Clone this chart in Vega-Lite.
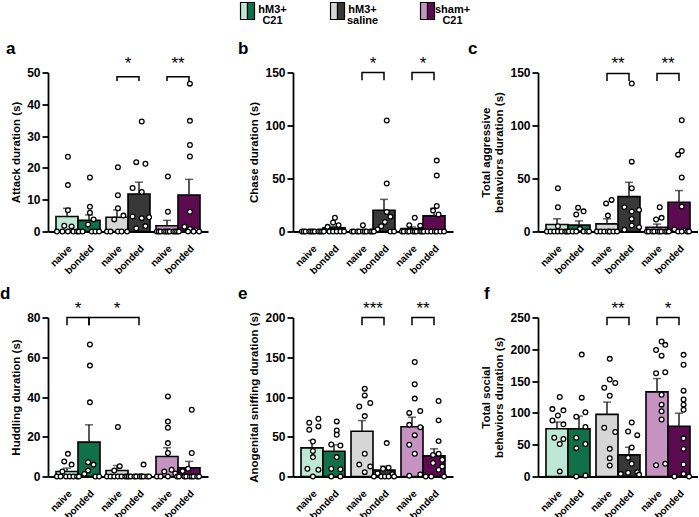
{
"$schema":"https://vega.github.io/schema/vega-lite/v6.json",
"padding":{"left":0,"top":1.5,"right":0,"bottom":0},
"datasets":{
"bars":[
{"p":"a","g":"C21","c":"naive","k":"C21 naive","m":4.7,"u":7.3},
{"p":"a","g":"C21","c":"bonded","k":"C21 bonded","m":3.5,"u":5.2},
{"p":"a","g":"sal","c":"naive","k":"sal naive","m":4.5,"u":6.8},
{"p":"a","g":"sal","c":"bonded","k":"sal bonded","m":11.8,"u":15.5},
{"p":"a","g":"sham","c":"naive","k":"sham naive","m":1.8,"u":3.5},
{"p":"a","g":"sham","c":"bonded","k":"sham bonded","m":11.5,"u":16.4},
{"p":"b","g":"C21","c":"naive","k":"C21 naive","m":0.2,"u":0.5},
{"p":"b","g":"C21","c":"bonded","k":"C21 bonded","m":3.4,"u":4.9},
{"p":"b","g":"sal","c":"naive","k":"sal naive","m":0.6,"u":1.2},
{"p":"b","g":"sal","c":"bonded","k":"sal bonded","m":20,"u":30.3},
{"p":"b","g":"sham","c":"naive","k":"sham naive","m":2.8,"u":4.3},
{"p":"b","g":"sham","c":"bonded","k":"sham bonded","m":14.7,"u":21.9},
{"p":"c","g":"C21","c":"naive","k":"C21 naive","m":6.6,"u":12},
{"p":"c","g":"C21","c":"bonded","k":"C21 bonded","m":6,"u":10},
{"p":"c","g":"sal","c":"naive","k":"sal naive","m":7.2,"u":12},
{"p":"c","g":"sal","c":"bonded","k":"sal bonded","m":32.9,"u":46.4},
{"p":"c","g":"sham","c":"naive","k":"sham naive","m":4,"u":7},
{"p":"c","g":"sham","c":"bonded","k":"sham bonded","m":27.6,"u":38.6},
{"p":"d","g":"C21","c":"naive","k":"C21 naive","m":2.5,"u":4.2},
{"p":"d","g":"C21","c":"bonded","k":"C21 bonded","m":17.3,"u":26},
{"p":"d","g":"sal","c":"naive","k":"sal naive","m":3,"u":5.5},
{"p":"d","g":"sal","c":"bonded","k":"sal bonded","m":0.6,"u":1.2},
{"p":"d","g":"sham","c":"naive","k":"sham naive","m":10.1,"u":14.5},
{"p":"d","g":"sham","c":"bonded","k":"sham bonded","m":4.4,"u":7.6},
{"p":"e","g":"C21","c":"naive","k":"C21 naive","m":36,"u":45.3},
{"p":"e","g":"C21","c":"bonded","k":"C21 bonded","m":31.8,"u":39.8},
{"p":"e","g":"sal","c":"naive","k":"sal naive","m":57,"u":70.4},
{"p":"e","g":"sal","c":"bonded","k":"sal bonded","m":8,"u":13},
{"p":"e","g":"sham","c":"naive","k":"sham naive","m":62.5,"u":74.6},
{"p":"e","g":"sham","c":"bonded","k":"sham bonded","m":26,"u":34.8},
{"p":"f","g":"C21","c":"naive","k":"C21 naive","m":75,"u":85.6},
{"p":"f","g":"C21","c":"bonded","k":"C21 bonded","m":75,"u":95},
{"p":"f","g":"sal","c":"naive","k":"sal naive","m":97.7,"u":117},
{"p":"f","g":"sal","c":"bonded","k":"sal bonded","m":34,"u":46},
{"p":"f","g":"sham","c":"naive","k":"sham naive","m":133,"u":154},
{"p":"f","g":"sham","c":"bonded","k":"sham bonded","m":79,"u":99.5}
],
"pts":[
{"p":"a","g":"C21","c":"naive","s":6,"v":23.5},{"p":"a","g":"C21","c":"naive","s":6,"v":14.6},{"p":"a","g":"C21","c":"naive","s":6,"v":6.7},{"p":"a","g":"C21","c":"naive","s":4,"v":1.8},{"p":"a","g":"C21","c":"naive","s":8,"v":1.6},{"p":"a","g":"C21","c":"naive","s":0,"v":0},{"p":"a","g":"C21","c":"naive","s":3,"v":0},{"p":"a","g":"C21","c":"naive","s":6,"v":0},{"p":"a","g":"C21","c":"naive","s":9,"v":0},{"p":"a","g":"C21","c":"naive","s":11,"v":0},
{"p":"a","g":"C21","c":"bonded","s":18,"v":17},{"p":"a","g":"C21","c":"bonded","s":18,"v":7.8},{"p":"a","g":"C21","c":"bonded","s":18,"v":5.9},{"p":"a","g":"C21","c":"bonded","s":20,"v":3.8},{"p":"a","g":"C21","c":"bonded","s":17,"v":2.2},{"p":"a","g":"C21","c":"bonded","s":12,"v":0},{"p":"a","g":"C21","c":"bonded","s":14,"v":0},{"p":"a","g":"C21","c":"bonded","s":19,"v":0},{"p":"a","g":"C21","c":"bonded","s":21,"v":0},{"p":"a","g":"C21","c":"bonded","s":23,"v":0},
{"p":"a","g":"sal","c":"naive","s":6,"v":20.2},{"p":"a","g":"sal","c":"naive","s":6,"v":11.4},{"p":"a","g":"sal","c":"naive","s":6,"v":7.3},{"p":"a","g":"sal","c":"naive","s":9,"v":5},{"p":"a","g":"sal","c":"naive","s":4,"v":3.8},{"p":"a","g":"sal","c":"naive","s":0,"v":0},{"p":"a","g":"sal","c":"naive","s":2,"v":0},{"p":"a","g":"sal","c":"naive","s":6,"v":0},{"p":"a","g":"sal","c":"naive","s":8,"v":0},{"p":"a","g":"sal","c":"naive","s":11,"v":0},
{"p":"a","g":"sal","c":"bonded","s":19,"v":34.6},{"p":"a","g":"sal","c":"bonded","s":16,"v":21.8},{"p":"a","g":"sal","c":"bonded","s":21,"v":21.3},{"p":"a","g":"sal","c":"bonded","s":14,"v":13.7},{"p":"a","g":"sal","c":"bonded","s":19,"v":12.4},{"p":"a","g":"sal","c":"bonded","s":14,"v":4.7},{"p":"a","g":"sal","c":"bonded","s":23,"v":4.5},{"p":"a","g":"sal","c":"bonded","s":19,"v":4.2},{"p":"a","g":"sal","c":"bonded","s":21,"v":1.7},{"p":"a","g":"sal","c":"bonded","s":16,"v":1},
{"p":"a","g":"sham","c":"naive","s":6,"v":17.3},{"p":"a","g":"sham","c":"naive","s":6,"v":6.2},{"p":"a","g":"sham","c":"naive","s":0,"v":0},{"p":"a","g":"sham","c":"naive","s":1,"v":0},{"p":"a","g":"sham","c":"naive","s":2,"v":0},{"p":"a","g":"sham","c":"naive","s":4,"v":0},{"p":"a","g":"sham","c":"naive","s":5,"v":0},{"p":"a","g":"sham","c":"naive","s":6,"v":0},{"p":"a","g":"sham","c":"naive","s":7,"v":0},{"p":"a","g":"sham","c":"naive","s":9,"v":0},{"p":"a","g":"sham","c":"naive","s":10,"v":0},{"p":"a","g":"sham","c":"naive","s":11,"v":0},
{"p":"a","g":"sham","c":"bonded","s":18,"v":46.5},{"p":"a","g":"sham","c":"bonded","s":18,"v":34.8},{"p":"a","g":"sham","c":"bonded","s":18,"v":27.2},{"p":"a","g":"sham","c":"bonded","s":18,"v":23.6},{"p":"a","g":"sham","c":"bonded","s":18,"v":6.2},{"p":"a","g":"sham","c":"bonded","s":15,"v":1.5},{"p":"a","g":"sham","c":"bonded","s":18,"v":0.8},{"p":"a","g":"sham","c":"bonded","s":21,"v":0.4},{"p":"a","g":"sham","c":"bonded","s":12,"v":0},{"p":"a","g":"sham","c":"bonded","s":17,"v":0},{"p":"a","g":"sham","c":"bonded","s":20,"v":0},{"p":"a","g":"sham","c":"bonded","s":23,"v":0},
{"p":"b","g":"C21","c":"naive","s":0,"v":0},{"p":"b","g":"C21","c":"naive","s":1,"v":0},{"p":"b","g":"C21","c":"naive","s":2,"v":0},{"p":"b","g":"C21","c":"naive","s":4,"v":0},{"p":"b","g":"C21","c":"naive","s":5,"v":0},{"p":"b","g":"C21","c":"naive","s":6,"v":0},{"p":"b","g":"C21","c":"naive","s":7,"v":0},{"p":"b","g":"C21","c":"naive","s":9,"v":0},{"p":"b","g":"C21","c":"naive","s":10,"v":0},{"p":"b","g":"C21","c":"naive","s":11,"v":0},
{"p":"b","g":"C21","c":"bonded","s":18,"v":13},{"p":"b","g":"C21","c":"bonded","s":17,"v":8.5},{"p":"b","g":"C21","c":"bonded","s":20,"v":6},{"p":"b","g":"C21","c":"bonded","s":14,"v":4.4},{"p":"b","g":"C21","c":"bonded","s":12,"v":0},{"p":"b","g":"C21","c":"bonded","s":15,"v":0},{"p":"b","g":"C21","c":"bonded","s":17,"v":0},{"p":"b","g":"C21","c":"bonded","s":19,"v":0},{"p":"b","g":"C21","c":"bonded","s":21,"v":0},{"p":"b","g":"C21","c":"bonded","s":23,"v":0},
{"p":"b","g":"sal","c":"naive","s":6,"v":5.9},{"p":"b","g":"sal","c":"naive","s":0,"v":0},{"p":"b","g":"sal","c":"naive","s":1,"v":0},{"p":"b","g":"sal","c":"naive","s":3,"v":0},{"p":"b","g":"sal","c":"naive","s":4,"v":0},{"p":"b","g":"sal","c":"naive","s":6,"v":0},{"p":"b","g":"sal","c":"naive","s":7,"v":0},{"p":"b","g":"sal","c":"naive","s":8,"v":0},{"p":"b","g":"sal","c":"naive","s":10,"v":0},{"p":"b","g":"sal","c":"naive","s":11,"v":0},
{"p":"b","g":"sal","c":"bonded","s":19,"v":104.7},{"p":"b","g":"sal","c":"bonded","s":19,"v":45.3},{"p":"b","g":"sal","c":"bonded","s":19,"v":18.4},{"p":"b","g":"sal","c":"bonded","s":21,"v":14},{"p":"b","g":"sal","c":"bonded","s":18,"v":9},{"p":"b","g":"sal","c":"bonded","s":16,"v":5},{"p":"b","g":"sal","c":"bonded","s":14,"v":2},{"p":"b","g":"sal","c":"bonded","s":12,"v":0},{"p":"b","g":"sal","c":"bonded","s":21,"v":0},{"p":"b","g":"sal","c":"bonded","s":23,"v":0},
{"p":"b","g":"sham","c":"naive","s":7,"v":13},{"p":"b","g":"sham","c":"naive","s":4,"v":6},{"p":"b","g":"sham","c":"naive","s":10,"v":5.5},{"p":"b","g":"sham","c":"naive","s":0,"v":0},{"p":"b","g":"sham","c":"naive","s":1,"v":0},{"p":"b","g":"sham","c":"naive","s":3,"v":0},{"p":"b","g":"sham","c":"naive","s":4,"v":0},{"p":"b","g":"sham","c":"naive","s":6,"v":0},{"p":"b","g":"sham","c":"naive","s":7,"v":0},{"p":"b","g":"sham","c":"naive","s":8,"v":0},{"p":"b","g":"sham","c":"naive","s":10,"v":0},{"p":"b","g":"sham","c":"naive","s":11,"v":0},
{"p":"b","g":"sham","c":"bonded","s":19,"v":66.9},{"p":"b","g":"sham","c":"bonded","s":19,"v":52.8},{"p":"b","g":"sham","c":"bonded","s":19,"v":24},{"p":"b","g":"sham","c":"bonded","s":17,"v":19.7},{"p":"b","g":"sham","c":"bonded","s":20,"v":16},{"p":"b","g":"sham","c":"bonded","s":12,"v":0},{"p":"b","g":"sham","c":"bonded","s":14,"v":0},{"p":"b","g":"sham","c":"bonded","s":16,"v":0},{"p":"b","g":"sham","c":"bonded","s":18,"v":0},{"p":"b","g":"sham","c":"bonded","s":19,"v":0},{"p":"b","g":"sham","c":"bonded","s":21,"v":0},{"p":"b","g":"sham","c":"bonded","s":23,"v":0},
{"p":"c","g":"C21","c":"naive","s":6,"v":40.8},{"p":"c","g":"C21","c":"naive","s":6,"v":22.9},{"p":"c","g":"C21","c":"naive","s":6,"v":5},{"p":"c","g":"C21","c":"naive","s":0,"v":0},{"p":"c","g":"C21","c":"naive","s":2,"v":0},{"p":"c","g":"C21","c":"naive","s":4,"v":0},{"p":"c","g":"C21","c":"naive","s":6,"v":0},{"p":"c","g":"C21","c":"naive","s":8,"v":0},{"p":"c","g":"C21","c":"naive","s":10,"v":0},{"p":"c","g":"C21","c":"naive","s":11,"v":0},
{"p":"c","g":"C21","c":"bonded","s":17,"v":22.5},{"p":"c","g":"C21","c":"bonded","s":20,"v":19},{"p":"c","g":"C21","c":"bonded","s":16,"v":16},{"p":"c","g":"C21","c":"bonded","s":18,"v":2.5},{"p":"c","g":"C21","c":"bonded","s":12,"v":0},{"p":"c","g":"C21","c":"bonded","s":14,"v":0},{"p":"c","g":"C21","c":"bonded","s":16,"v":0},{"p":"c","g":"C21","c":"bonded","s":20,"v":0},{"p":"c","g":"C21","c":"bonded","s":22,"v":0},{"p":"c","g":"C21","c":"bonded","s":23,"v":0},
{"p":"c","g":"sal","c":"naive","s":8,"v":29.8},{"p":"c","g":"sal","c":"naive","s":5,"v":26.5},{"p":"c","g":"sal","c":"naive","s":6,"v":15},{"p":"c","g":"sal","c":"naive","s":0,"v":0},{"p":"c","g":"sal","c":"naive","s":2,"v":0},{"p":"c","g":"sal","c":"naive","s":4,"v":0},{"p":"c","g":"sal","c":"naive","s":6,"v":0},{"p":"c","g":"sal","c":"naive","s":7,"v":0},{"p":"c","g":"sal","c":"naive","s":9,"v":0},{"p":"c","g":"sal","c":"naive","s":11,"v":0},
{"p":"c","g":"sal","c":"bonded","s":19,"v":139.6},{"p":"c","g":"sal","c":"bonded","s":19,"v":65.9},{"p":"c","g":"sal","c":"bonded","s":19,"v":40.8},{"p":"c","g":"sal","c":"bonded","s":15,"v":23},{"p":"c","g":"sal","c":"bonded","s":23,"v":20.4},{"p":"c","g":"sal","c":"bonded","s":19,"v":18.8},{"p":"c","g":"sal","c":"bonded","s":19,"v":11.9},{"p":"c","g":"sal","c":"bonded","s":19,"v":5.6},{"p":"c","g":"sal","c":"bonded","s":23,"v":4.1},{"p":"c","g":"sal","c":"bonded","s":15,"v":1.6},
{"p":"c","g":"sham","c":"naive","s":7,"v":22.9},{"p":"c","g":"sham","c":"naive","s":8,"v":12.9},{"p":"c","g":"sham","c":"naive","s":5,"v":11.3},{"p":"c","g":"sham","c":"naive","s":0,"v":0},{"p":"c","g":"sham","c":"naive","s":1,"v":0},{"p":"c","g":"sham","c":"naive","s":3,"v":0},{"p":"c","g":"sham","c":"naive","s":4,"v":0},{"p":"c","g":"sham","c":"naive","s":6,"v":0},{"p":"c","g":"sham","c":"naive","s":7,"v":0},{"p":"c","g":"sham","c":"naive","s":8,"v":0},{"p":"c","g":"sham","c":"naive","s":10,"v":0},{"p":"c","g":"sham","c":"naive","s":11,"v":0},
{"p":"c","g":"sham","c":"bonded","s":19,"v":105},{"p":"c","g":"sham","c":"bonded","s":19,"v":76},{"p":"c","g":"sham","c":"bonded","s":17,"v":72.5},{"p":"c","g":"sham","c":"bonded","s":19,"v":51},{"p":"c","g":"sham","c":"bonded","s":19,"v":23.5},{"p":"c","g":"sham","c":"bonded","s":15,"v":2},{"p":"c","g":"sham","c":"bonded","s":21,"v":1},{"p":"c","g":"sham","c":"bonded","s":12,"v":0},{"p":"c","g":"sham","c":"bonded","s":17,"v":0},{"p":"c","g":"sham","c":"bonded","s":19,"v":0},{"p":"c","g":"sham","c":"bonded","s":22,"v":0},{"p":"c","g":"sham","c":"bonded","s":23,"v":0},
{"p":"d","g":"C21","c":"naive","s":6,"v":11.4},{"p":"d","g":"C21","c":"naive","s":4,"v":7.6},{"p":"d","g":"C21","c":"naive","s":8,"v":6},{"p":"d","g":"C21","c":"naive","s":3,"v":2.5},{"p":"d","g":"C21","c":"naive","s":0,"v":0},{"p":"d","g":"C21","c":"naive","s":2,"v":0},{"p":"d","g":"C21","c":"naive","s":5,"v":0},{"p":"d","g":"C21","c":"naive","s":7,"v":0},{"p":"d","g":"C21","c":"naive","s":9,"v":0},{"p":"d","g":"C21","c":"naive","s":11,"v":0},
{"p":"d","g":"C21","c":"bonded","s":18,"v":66.4},{"p":"d","g":"C21","c":"bonded","s":18,"v":55.8},{"p":"d","g":"C21","c":"bonded","s":18,"v":37.3},{"p":"d","g":"C21","c":"bonded","s":17,"v":7.2},{"p":"d","g":"C21","c":"bonded","s":20,"v":6},{"p":"d","g":"C21","c":"bonded","s":17,"v":3},{"p":"d","g":"C21","c":"bonded","s":15,"v":1.3},{"p":"d","g":"C21","c":"bonded","s":12,"v":0},{"p":"d","g":"C21","c":"bonded","s":21,"v":0},{"p":"d","g":"C21","c":"bonded","s":23,"v":0},
{"p":"d","g":"sal","c":"naive","s":6,"v":24.9},{"p":"d","g":"sal","c":"naive","s":7,"v":5.2},{"p":"d","g":"sal","c":"naive","s":4,"v":3},{"p":"d","g":"sal","c":"naive","s":0,"v":0},{"p":"d","g":"sal","c":"naive","s":2,"v":0},{"p":"d","g":"sal","c":"naive","s":4,"v":0},{"p":"d","g":"sal","c":"naive","s":6,"v":0},{"p":"d","g":"sal","c":"naive","s":8,"v":0},{"p":"d","g":"sal","c":"naive","s":10,"v":0},{"p":"d","g":"sal","c":"naive","s":11,"v":0},
{"p":"d","g":"sal","c":"bonded","s":20,"v":6},{"p":"d","g":"sal","c":"bonded","s":12,"v":0},{"p":"d","g":"sal","c":"bonded","s":13,"v":0},{"p":"d","g":"sal","c":"bonded","s":15,"v":0},{"p":"d","g":"sal","c":"bonded","s":16,"v":0},{"p":"d","g":"sal","c":"bonded","s":18,"v":0},{"p":"d","g":"sal","c":"bonded","s":19,"v":0},{"p":"d","g":"sal","c":"bonded","s":20,"v":0},{"p":"d","g":"sal","c":"bonded","s":22,"v":0},{"p":"d","g":"sal","c":"bonded","s":23,"v":0},
{"p":"d","g":"sham","c":"naive","s":6,"v":40.3},{"p":"d","g":"sham","c":"naive","s":6,"v":27.7},{"p":"d","g":"sham","c":"naive","s":6,"v":24.5},{"p":"d","g":"sham","c":"naive","s":6,"v":16.8},{"p":"d","g":"sham","c":"naive","s":6,"v":11.8},{"p":"d","g":"sham","c":"naive","s":8,"v":3.4},{"p":"d","g":"sham","c":"naive","s":4,"v":2.5},{"p":"d","g":"sham","c":"naive","s":10,"v":1.5},{"p":"d","g":"sham","c":"naive","s":0,"v":0},{"p":"d","g":"sham","c":"naive","s":2,"v":0},{"p":"d","g":"sham","c":"naive","s":6,"v":0},{"p":"d","g":"sham","c":"naive","s":11,"v":0},
{"p":"d","g":"sham","c":"bonded","s":19,"v":33.6},{"p":"d","g":"sham","c":"bonded","s":19,"v":11.8},{"p":"d","g":"sham","c":"bonded","s":17,"v":3.9},{"p":"d","g":"sham","c":"bonded","s":14,"v":2.7},{"p":"d","g":"sham","c":"bonded","s":12,"v":0},{"p":"d","g":"sham","c":"bonded","s":15,"v":0},{"p":"d","g":"sham","c":"bonded","s":16,"v":0},{"p":"d","g":"sham","c":"bonded","s":18,"v":0},{"p":"d","g":"sham","c":"bonded","s":19,"v":0},{"p":"d","g":"sham","c":"bonded","s":20,"v":0},{"p":"d","g":"sham","c":"bonded","s":22,"v":0},{"p":"d","g":"sham","c":"bonded","s":23,"v":0},
{"p":"e","g":"C21","c":"naive","s":9,"v":72.7},{"p":"e","g":"C21","c":"naive","s":4,"v":67.6},{"p":"e","g":"C21","c":"naive","s":9,"v":63},{"p":"e","g":"C21","c":"naive","s":4,"v":58.8},{"p":"e","g":"C21","c":"naive","s":6,"v":44},{"p":"e","g":"C21","c":"naive","s":6,"v":32},{"p":"e","g":"C21","c":"naive","s":6,"v":24.4},{"p":"e","g":"C21","c":"naive","s":3,"v":9.7},{"p":"e","g":"C21","c":"naive","s":9,"v":8.4},{"p":"e","g":"C21","c":"naive","s":6,"v":0},
{"p":"e","g":"C21","c":"bonded","s":19,"v":69.3},{"p":"e","g":"C21","c":"bonded","s":19,"v":58},{"p":"e","g":"C21","c":"bonded","s":19,"v":52.5},{"p":"e","g":"C21","c":"bonded","s":16,"v":40.3},{"p":"e","g":"C21","c":"bonded","s":21,"v":39},{"p":"e","g":"C21","c":"bonded","s":19,"v":24.4},{"p":"e","g":"C21","c":"bonded","s":16,"v":9.7},{"p":"e","g":"C21","c":"bonded","s":21,"v":9.2},{"p":"e","g":"C21","c":"bonded","s":16,"v":0},{"p":"e","g":"C21","c":"bonded","s":21,"v":0},
{"p":"e","g":"sal","c":"naive","s":7,"v":110.5},{"p":"e","g":"sal","c":"naive","s":7,"v":102},{"p":"e","g":"sal","c":"naive","s":10,"v":92.4},{"p":"e","g":"sal","c":"naive","s":4,"v":88},{"p":"e","g":"sal","c":"naive","s":7,"v":76},{"p":"e","g":"sal","c":"naive","s":7,"v":28.6},{"p":"e","g":"sal","c":"naive","s":4,"v":15},{"p":"e","g":"sal","c":"naive","s":10,"v":12.6},{"p":"e","g":"sal","c":"naive","s":7,"v":5.5},
{"p":"e","g":"sal","c":"bonded","s":19,"v":42},{"p":"e","g":"sal","c":"bonded","s":20,"v":11},{"p":"e","g":"sal","c":"bonded","s":17,"v":9.7},{"p":"e","g":"sal","c":"bonded","s":14,"v":4},{"p":"e","g":"sal","c":"bonded","s":22,"v":3},{"p":"e","g":"sal","c":"bonded","s":12,"v":0},{"p":"e","g":"sal","c":"bonded","s":16,"v":0},{"p":"e","g":"sal","c":"bonded","s":18,"v":0},{"p":"e","g":"sal","c":"bonded","s":20,"v":0},{"p":"e","g":"sal","c":"bonded","s":23,"v":0},
{"p":"e","g":"sham","c":"naive","s":7,"v":144},{"p":"e","g":"sham","c":"naive","s":7,"v":116},{"p":"e","g":"sham","c":"naive","s":7,"v":98},{"p":"e","g":"sham","c":"naive","s":10,"v":82.4},{"p":"e","g":"sham","c":"naive","s":4,"v":80},{"p":"e","g":"sham","c":"naive","s":4,"v":65},{"p":"e","g":"sham","c":"naive","s":10,"v":62},{"p":"e","g":"sham","c":"naive","s":7,"v":52},{"p":"e","g":"sham","c":"naive","s":4,"v":40},{"p":"e","g":"sham","c":"naive","s":7,"v":28.6},{"p":"e","g":"sham","c":"naive","s":10,"v":2.5},{"p":"e","g":"sham","c":"naive","s":4,"v":1},
{"p":"e","g":"sham","c":"bonded","s":20,"v":95},{"p":"e","g":"sham","c":"bonded","s":20,"v":70.6},{"p":"e","g":"sham","c":"bonded","s":20,"v":44.5},{"p":"e","g":"sham","c":"bonded","s":20,"v":28.6},{"p":"e","g":"sham","c":"bonded","s":17,"v":27},{"p":"e","g":"sham","c":"bonded","s":22,"v":21},{"p":"e","g":"sham","c":"bonded","s":17,"v":17},{"p":"e","g":"sham","c":"bonded","s":22,"v":12.6},{"p":"e","g":"sham","c":"bonded","s":20,"v":8.4},{"p":"e","g":"sham","c":"bonded","s":13,"v":0},{"p":"e","g":"sham","c":"bonded","s":16,"v":0},{"p":"e","g":"sham","c":"bonded","s":23,"v":0},
{"p":"f","g":"C21","c":"naive","s":7,"v":125},{"p":"f","g":"C21","c":"naive","s":3,"v":106},{"p":"f","g":"C21","c":"naive","s":9,"v":104},{"p":"f","g":"C21","c":"naive","s":6,"v":96},{"p":"f","g":"C21","c":"naive","s":3,"v":88},{"p":"f","g":"C21","c":"naive","s":9,"v":82},{"p":"f","g":"C21","c":"naive","s":4,"v":61},{"p":"f","g":"C21","c":"naive","s":9,"v":59},{"p":"f","g":"C21","c":"naive","s":7,"v":51},{"p":"f","g":"C21","c":"naive","s":7,"v":8},
{"p":"f","g":"C21","c":"bonded","s":19,"v":191.7},{"p":"f","g":"C21","c":"bonded","s":19,"v":124},{"p":"f","g":"C21","c":"bonded","s":21,"v":101},{"p":"f","g":"C21","c":"bonded","s":16,"v":94},{"p":"f","g":"C21","c":"bonded","s":21,"v":78},{"p":"f","g":"C21","c":"bonded","s":16,"v":61},{"p":"f","g":"C21","c":"bonded","s":21,"v":51},{"p":"f","g":"C21","c":"bonded","s":16,"v":44.6},{"p":"f","g":"C21","c":"bonded","s":21,"v":1.6},{"p":"f","g":"C21","c":"bonded","s":16,"v":0},
{"p":"f","g":"sal","c":"naive","s":7,"v":185},{"p":"f","g":"sal","c":"naive","s":7,"v":152.5},{"p":"f","g":"sal","c":"naive","s":10,"v":147},{"p":"f","g":"sal","c":"naive","s":4,"v":139.5},{"p":"f","g":"sal","c":"naive","s":7,"v":127},{"p":"f","g":"sal","c":"naive","s":4,"v":76.6},{"p":"f","g":"sal","c":"naive","s":10,"v":70},{"p":"f","g":"sal","c":"naive","s":7,"v":43.5},{"p":"f","g":"sal","c":"naive","s":7,"v":28.8},{"p":"f","g":"sal","c":"naive","s":7,"v":17.3},
{"p":"f","g":"sal","c":"bonded","s":19,"v":85},{"p":"f","g":"sal","c":"bonded","s":17,"v":70.8},{"p":"f","g":"sal","c":"bonded","s":22,"v":65},{"p":"f","g":"sal","c":"bonded","s":19,"v":45.6},{"p":"f","g":"sal","c":"bonded","s":17,"v":29.4},{"p":"f","g":"sal","c":"bonded","s":19,"v":20},{"p":"f","g":"sal","c":"bonded","s":22,"v":6.8},{"p":"f","g":"sal","c":"bonded","s":17,"v":5.8},{"p":"f","g":"sal","c":"bonded","s":13,"v":4.2},{"p":"f","g":"sal","c":"bonded","s":23,"v":3},
{"p":"f","g":"sham","c":"naive","s":8,"v":212.3},{"p":"f","g":"sham","c":"naive","s":10,"v":207},{"p":"f","g":"sham","c":"naive","s":5,"v":199},{"p":"f","g":"sham","c":"naive","s":8,"v":190},{"p":"f","g":"sham","c":"naive","s":10,"v":164},{"p":"f","g":"sham","c":"naive","s":5,"v":162.4},{"p":"f","g":"sham","c":"naive","s":8,"v":128.5},{"p":"f","g":"sham","c":"naive","s":8,"v":113},{"p":"f","g":"sham","c":"naive","s":8,"v":102.7},{"p":"f","g":"sham","c":"naive","s":8,"v":89.6},{"p":"f","g":"sham","c":"naive","s":10,"v":20},{"p":"f","g":"sham","c":"naive","s":5,"v":17.8},
{"p":"f","g":"sham","c":"bonded","s":20,"v":191.3},{"p":"f","g":"sham","c":"bonded","s":20,"v":175.6},{"p":"f","g":"sham","c":"bonded","s":20,"v":135},{"p":"f","g":"sham","c":"bonded","s":20,"v":121},{"p":"f","g":"sham","c":"bonded","s":20,"v":113},{"p":"f","g":"sham","c":"bonded","s":20,"v":105},{"p":"f","g":"sham","c":"bonded","s":20,"v":60},{"p":"f","g":"sham","c":"bonded","s":20,"v":43.5},{"p":"f","g":"sham","c":"bonded","s":20,"v":18.9},{"p":"f","g":"sham","c":"bonded","s":20,"v":4.2},{"p":"f","g":"sham","c":"bonded","s":15,"v":0},{"p":"f","g":"sham","c":"bonded","s":23,"v":0}
],
"brk":[
{"p":"a","b":"a1","o":1,"g":"sal","c":"naive","y":47.3},{"p":"a","b":"a1","o":2,"g":"sal","c":"naive","y":48.7},{"p":"a","b":"a1","o":3,"g":"sal","c":"bonded","y":48.7},{"p":"a","b":"a1","o":4,"g":"sal","c":"bonded","y":47.3},
{"p":"a","b":"a2","o":1,"g":"sham","c":"naive","y":47.3},{"p":"a","b":"a2","o":2,"g":"sham","c":"naive","y":48.7},{"p":"a","b":"a2","o":3,"g":"sham","c":"bonded","y":48.7},{"p":"a","b":"a2","o":4,"g":"sham","c":"bonded","y":47.3},
{"p":"b","b":"b1","o":1,"g":"sal","c":"naive","y":142.8},{"p":"b","b":"b1","o":2,"g":"sal","c":"naive","y":150},{"p":"b","b":"b1","o":3,"g":"sal","c":"bonded","y":150},{"p":"b","b":"b1","o":4,"g":"sal","c":"bonded","y":142.8},
{"p":"b","b":"b2","o":1,"g":"sham","c":"naive","y":142.8},{"p":"b","b":"b2","o":2,"g":"sham","c":"naive","y":150},{"p":"b","b":"b2","o":3,"g":"sham","c":"bonded","y":150},{"p":"b","b":"b2","o":4,"g":"sham","c":"bonded","y":142.8},
{"p":"c","b":"c1","o":1,"g":"sal","c":"naive","y":142},{"p":"c","b":"c1","o":2,"g":"sal","c":"naive","y":149},{"p":"c","b":"c1","o":3,"g":"sal","c":"bonded","y":149},{"p":"c","b":"c1","o":4,"g":"sal","c":"bonded","y":142},
{"p":"c","b":"c2","o":1,"g":"sham","c":"naive","y":142},{"p":"c","b":"c2","o":2,"g":"sham","c":"naive","y":149},{"p":"c","b":"c2","o":3,"g":"sham","c":"bonded","y":149},{"p":"c","b":"c2","o":4,"g":"sham","c":"bonded","y":142},
{"p":"d","b":"d1","o":1,"g":"C21","c":"naive","y":76.1},{"p":"d","b":"d1","o":2,"g":"C21","c":"naive","y":80},{"p":"d","b":"d1","o":3,"g":"C21","c":"bonded","y":80},{"p":"d","b":"d1","o":4,"g":"C21","c":"bonded","y":76.1},
{"p":"d","b":"d2","o":1,"g":"C21","c":"bonded","y":76.1},{"p":"d","b":"d2","o":2,"g":"C21","c":"bonded","y":80},{"p":"d","b":"d2","o":3,"g":"sal","c":"bonded","y":80},{"p":"d","b":"d2","o":4,"g":"sal","c":"bonded","y":76.1},
{"p":"e","b":"e1","o":1,"g":"sal","c":"naive","y":190.3},{"p":"e","b":"e1","o":2,"g":"sal","c":"naive","y":200},{"p":"e","b":"e1","o":3,"g":"sal","c":"bonded","y":200},{"p":"e","b":"e1","o":4,"g":"sal","c":"bonded","y":190.3},
{"p":"e","b":"e2","o":1,"g":"sham","c":"naive","y":190.3},{"p":"e","b":"e2","o":2,"g":"sham","c":"naive","y":200},{"p":"e","b":"e2","o":3,"g":"sham","c":"bonded","y":200},{"p":"e","b":"e2","o":4,"g":"sham","c":"bonded","y":190.3},
{"p":"f","b":"f1","o":1,"g":"sal","c":"naive","y":237.9},{"p":"f","b":"f1","o":2,"g":"sal","c":"naive","y":250},{"p":"f","b":"f1","o":3,"g":"sal","c":"bonded","y":250},{"p":"f","b":"f1","o":4,"g":"sal","c":"bonded","y":237.9},
{"p":"f","b":"f2","o":1,"g":"sham","c":"naive","y":237.9},{"p":"f","b":"f2","o":2,"g":"sham","c":"naive","y":250},{"p":"f","b":"f2","o":3,"g":"sham","c":"bonded","y":250},{"p":"f","b":"f2","o":4,"g":"sham","c":"bonded","y":237.9}
],
"stars":[
{"p":"a","g":"sal","y":50,"t":"*"},{"p":"a","g":"sham","y":50,"t":"**"},
{"p":"b","g":"sal","y":150,"t":"*"},{"p":"b","g":"sham","y":150,"t":"*"},
{"p":"c","g":"sal","y":150,"t":"**"},{"p":"c","g":"sham","y":150,"t":"**"},
{"p":"d","g":"C21","y":80,"t":"*"},{"p":"d","g":"sal","c":"naive","y":80,"t":"*"},
{"p":"e","g":"sal","y":200,"t":"***"},{"p":"e","g":"sham","y":200,"t":"**"},
{"p":"f","g":"sal","y":250,"t":"**"},{"p":"f","g":"sham","y":250,"t":"*"}
],
"leg":[
{"g":"C21","t":"hM3+\nC21"},{"g":"sal","t":"hM3+\nsaline"},{"g":"sham","t":"sham+\nC21"}
]
},
"spacing":14,
"center":true,
"resolve":{"scale":{"xOffset":"independent"}},
"vconcat":[
{"width":265,"height":17,
 "resolve":{"scale":{"xOffset":"independent"}},
 "layer":[
  {"data":{"name":"bars"},"transform":[{"filter":"datum.p==='a'"}],"mark":{"type":"bar","stroke":"black","strokeWidth":1.2},
   "encoding":{"x":{"field":"g","type":"nominal","scale":{"domain":["C21","sal","sham"],"paddingInner":0.8444,"paddingOuter":0.3944,"align":0},"axis":null},
    "xOffset":{"field":"c","type":"nominal","scale":{"domain":["naive","bonded"]}},
    "y":{"datum":0,"type":"quantitative","scale":{"domain":[0,1]},"axis":null},"y2":{"datum":1},
    "fill":{"field":"k","type":"nominal","scale":{"domain":["C21 naive","C21 bonded","sal naive","sal bonded","sham naive","sham bonded"],"range":["#bce8d5","#10704a","#d6d6d6","#383838","#c692c1","#5c0b51"]},"legend":null}}},
  {"data":{"name":"leg"},"mark":{"type":"text","lineBreak":"\n","fontWeight":"bold","fontSize":11,"baseline":"top","lineHeight":11,"dy":1,"dx":25,"align":"center"},
   "encoding":{"x":{"field":"g","type":"nominal"},"y":{"datum":1,"type":"quantitative"},"text":{"field":"t","type":"nominal"}}}
 ]},
{"columns":3,"spacing":{"row":86,"column":85},"bounds":"flush","resolve":{"scale":{"xOffset":"independent"}},
 "concat":[
  {"width":160,"height":159,"title":{"text":"a","dx":-42},"resolve":{"scale":{"xOffset":"independent"}},
   "layer":[
    {"data":{"name":"bars"},"transform":[{"filter":"datum.p==='a'"}],"mark":{"type":"bar","stroke":"black","strokeWidth":1.6},
     "encoding":{"x":{"field":"g","type":"nominal","scale":{"domain":["C21","sal","sham"],"paddingInner":0.12,"paddingOuter":0.16},"axis":{"labels":false,"ticks":false,"title":null}},
      "xOffset":{"field":"c","type":"nominal","scale":{"domain":["naive","bonded"]}},
      "y":{"field":"m","type":"quantitative","scale":{"domain":[0,50],"nice":false},"axis":{"title":"Attack duration (s)","values":[0,10,20,30,40,50],"tickCount":12,"titlePadding":5,"labelOverlap":false}},
      "fill":{"field":"k","type":"nominal","legend":null}}},
    {"data":{"name":"bars"},"transform":[{"filter":"datum.p==='a'"}],"mark":{"type":"rule","color":"#222222","strokeWidth":1.5},
     "encoding":{"x":{"field":"g","type":"nominal"},"xOffset":{"field":"c","type":"nominal","scale":{"domain":["naive","bonded"]}},"y":{"field":"m","type":"quantitative","axis":{"title":"Attack duration (s)","values":[0,10,20,30,40,50],"tickCount":12,"titlePadding":5,"labelOverlap":false}},"y2":{"field":"u"}}},
    {"data":{"name":"bars"},"transform":[{"filter":"datum.p==='a'"}],"mark":{"type":"tick","orient":"horizontal","color":"#222222","size":8,"thickness":1.5},
     "encoding":{"x":{"field":"g","type":"nominal"},"xOffset":{"field":"c","type":"nominal","scale":{"domain":["naive","bonded"]}},"y":{"field":"u","type":"quantitative","axis":{"title":"Attack duration (s)","values":[0,10,20,30,40,50],"tickCount":12,"titlePadding":5,"labelOverlap":false}}}},
    {"data":{"name":"pts"},"transform":[{"filter":"datum.p==='a'"}],"mark":{"type":"circle","fill":"white","stroke":"black","strokeWidth":1.3,"size":22,"opacity":1},
     "encoding":{"x":{"field":"g","type":"nominal"},"xOffset":{"field":"s","type":"quantitative","scale":{"domain":[-0.5,23.5]}},"y":{"field":"v","type":"quantitative","axis":{"title":"Attack duration (s)","values":[0,10,20,30,40,50],"tickCount":12,"titlePadding":5,"labelOverlap":false}}}},
    {"data":{"name":"brk"},"transform":[{"filter":"datum.p==='a'"}],"mark":{"type":"line","color":"black","strokeWidth":1.5},
     "encoding":{"x":{"field":"g","type":"nominal"},"xOffset":{"field":"c","type":"nominal","scale":{"domain":["naive","bonded"]}},"y":{"field":"y","type":"quantitative","axis":{"title":"Attack duration (s)","values":[0,10,20,30,40,50],"tickCount":12,"titlePadding":5,"labelOverlap":false}},"detail":{"field":"b","type":"nominal"},"order":{"field":"o","type":"quantitative"}}},
    {"data":{"name":"stars"},"transform":[{"filter":"datum.p==='a' && !datum.c"}],"mark":{"type":"text","fontSize":17,"baseline":"alphabetic","dy":-3.5},
     "encoding":{"x":{"field":"g","type":"nominal"},"y":{"field":"y","type":"quantitative","axis":{"title":"Attack duration (s)","values":[0,10,20,30,40,50],"tickCount":12,"titlePadding":5,"labelOverlap":false}},"text":{"field":"t","type":"nominal"}}},
    {"data":{"name":"bars"},"transform":[{"filter":"datum.p==='a'"}],"mark":{"type":"text","angle":315,"align":"right","baseline":"middle","radius":16,"theta":2.93,"fontSize":10,"fontWeight":"bold"},
     "encoding":{"x":{"field":"g","type":"nominal"},"xOffset":{"field":"c","type":"nominal","scale":{"domain":["naive","bonded"]}},"y":{"datum":0,"type":"quantitative","axis":{"title":"Attack duration (s)","values":[0,10,20,30,40,50],"tickCount":12,"titlePadding":5,"labelOverlap":false}},"text":{"field":"c","type":"nominal"}}}
   ]},
  {"width":160,"height":159,"title":{"text":"b","dx":-55},"resolve":{"scale":{"xOffset":"independent"}},
   "layer":[
    {"data":{"name":"bars"},"transform":[{"filter":"datum.p==='b'"}],"mark":{"type":"bar","stroke":"black","strokeWidth":1.6},
     "encoding":{"x":{"field":"g","type":"nominal","scale":{"domain":["C21","sal","sham"],"paddingInner":0.12,"paddingOuter":0.16},"axis":{"labels":false,"ticks":false,"title":null}},
      "xOffset":{"field":"c","type":"nominal","scale":{"domain":["naive","bonded"]}},
      "y":{"field":"m","type":"quantitative","scale":{"domain":[0,150],"nice":false},"axis":{"title":"Chase duration (s)","values":[0,50,100,150],"tickCount":12,"titlePadding":5,"labelOverlap":false}},
      "fill":{"field":"k","type":"nominal","legend":null}}},
    {"data":{"name":"bars"},"transform":[{"filter":"datum.p==='b'"}],"mark":{"type":"rule","color":"#222222","strokeWidth":1.5},
     "encoding":{"x":{"field":"g","type":"nominal"},"xOffset":{"field":"c","type":"nominal","scale":{"domain":["naive","bonded"]}},"y":{"field":"m","type":"quantitative","axis":{"title":"Chase duration (s)","values":[0,50,100,150],"tickCount":12,"titlePadding":5,"labelOverlap":false}},"y2":{"field":"u"}}},
    {"data":{"name":"bars"},"transform":[{"filter":"datum.p==='b'"}],"mark":{"type":"tick","orient":"horizontal","color":"#222222","size":8,"thickness":1.5},
     "encoding":{"x":{"field":"g","type":"nominal"},"xOffset":{"field":"c","type":"nominal","scale":{"domain":["naive","bonded"]}},"y":{"field":"u","type":"quantitative","axis":{"title":"Chase duration (s)","values":[0,50,100,150],"tickCount":12,"titlePadding":5,"labelOverlap":false}}}},
    {"data":{"name":"pts"},"transform":[{"filter":"datum.p==='b'"}],"mark":{"type":"circle","fill":"white","stroke":"black","strokeWidth":1.3,"size":22,"opacity":1},
     "encoding":{"x":{"field":"g","type":"nominal"},"xOffset":{"field":"s","type":"quantitative","scale":{"domain":[-0.5,23.5]}},"y":{"field":"v","type":"quantitative","axis":{"title":"Chase duration (s)","values":[0,50,100,150],"tickCount":12,"titlePadding":5,"labelOverlap":false}}}},
    {"data":{"name":"brk"},"transform":[{"filter":"datum.p==='b'"}],"mark":{"type":"line","color":"black","strokeWidth":1.5},
     "encoding":{"x":{"field":"g","type":"nominal"},"xOffset":{"field":"c","type":"nominal","scale":{"domain":["naive","bonded"]}},"y":{"field":"y","type":"quantitative","axis":{"title":"Chase duration (s)","values":[0,50,100,150],"tickCount":12,"titlePadding":5,"labelOverlap":false}},"detail":{"field":"b","type":"nominal"},"order":{"field":"o","type":"quantitative"}}},
    {"data":{"name":"stars"},"transform":[{"filter":"datum.p==='b' && !datum.c"}],"mark":{"type":"text","fontSize":17,"baseline":"alphabetic","dy":-3.5},
     "encoding":{"x":{"field":"g","type":"nominal"},"y":{"field":"y","type":"quantitative","axis":{"title":"Chase duration (s)","values":[0,50,100,150],"tickCount":12,"titlePadding":5,"labelOverlap":false}},"text":{"field":"t","type":"nominal"}}},
    {"data":{"name":"bars"},"transform":[{"filter":"datum.p==='b'"}],"mark":{"type":"text","angle":315,"align":"right","baseline":"middle","radius":16,"theta":2.93,"fontSize":10,"fontWeight":"bold"},
     "encoding":{"x":{"field":"g","type":"nominal"},"xOffset":{"field":"c","type":"nominal","scale":{"domain":["naive","bonded"]}},"y":{"datum":0,"type":"quantitative","axis":{"title":"Chase duration (s)","values":[0,50,100,150],"tickCount":12,"titlePadding":5,"labelOverlap":false}},"text":{"field":"c","type":"nominal"}}}
   ]},
  {"width":160,"height":159,"title":{"text":"c","dx":-70},"resolve":{"scale":{"xOffset":"independent"}},
   "layer":[
    {"data":{"name":"bars"},"transform":[{"filter":"datum.p==='c'"}],"mark":{"type":"bar","stroke":"black","strokeWidth":1.6},
     "encoding":{"x":{"field":"g","type":"nominal","scale":{"domain":["C21","sal","sham"],"paddingInner":0.12,"paddingOuter":0.16},"axis":{"labels":false,"ticks":false,"title":null}},
      "xOffset":{"field":"c","type":"nominal","scale":{"domain":["naive","bonded"]}},
      "y":{"field":"m","type":"quantitative","scale":{"domain":[0,150],"nice":false},"axis":{"title":["Total aggressive","behaviors duration (s)"],"values":[0,50,100,150],"tickCount":12,"titlePadding":5,"labelOverlap":false}},
      "fill":{"field":"k","type":"nominal","legend":null}}},
    {"data":{"name":"bars"},"transform":[{"filter":"datum.p==='c'"}],"mark":{"type":"rule","color":"#222222","strokeWidth":1.5},
     "encoding":{"x":{"field":"g","type":"nominal"},"xOffset":{"field":"c","type":"nominal","scale":{"domain":["naive","bonded"]}},"y":{"field":"m","type":"quantitative","axis":{"title":["Total aggressive","behaviors duration (s)"],"values":[0,50,100,150],"tickCount":12,"titlePadding":5,"labelOverlap":false}},"y2":{"field":"u"}}},
    {"data":{"name":"bars"},"transform":[{"filter":"datum.p==='c'"}],"mark":{"type":"tick","orient":"horizontal","color":"#222222","size":8,"thickness":1.5},
     "encoding":{"x":{"field":"g","type":"nominal"},"xOffset":{"field":"c","type":"nominal","scale":{"domain":["naive","bonded"]}},"y":{"field":"u","type":"quantitative","axis":{"title":["Total aggressive","behaviors duration (s)"],"values":[0,50,100,150],"tickCount":12,"titlePadding":5,"labelOverlap":false}}}},
    {"data":{"name":"pts"},"transform":[{"filter":"datum.p==='c'"}],"mark":{"type":"circle","fill":"white","stroke":"black","strokeWidth":1.3,"size":22,"opacity":1},
     "encoding":{"x":{"field":"g","type":"nominal"},"xOffset":{"field":"s","type":"quantitative","scale":{"domain":[-0.5,23.5]}},"y":{"field":"v","type":"quantitative","axis":{"title":["Total aggressive","behaviors duration (s)"],"values":[0,50,100,150],"tickCount":12,"titlePadding":5,"labelOverlap":false}}}},
    {"data":{"name":"brk"},"transform":[{"filter":"datum.p==='c'"}],"mark":{"type":"line","color":"black","strokeWidth":1.5},
     "encoding":{"x":{"field":"g","type":"nominal"},"xOffset":{"field":"c","type":"nominal","scale":{"domain":["naive","bonded"]}},"y":{"field":"y","type":"quantitative","axis":{"title":["Total aggressive","behaviors duration (s)"],"values":[0,50,100,150],"tickCount":12,"titlePadding":5,"labelOverlap":false}},"detail":{"field":"b","type":"nominal"},"order":{"field":"o","type":"quantitative"}}},
    {"data":{"name":"stars"},"transform":[{"filter":"datum.p==='c' && !datum.c"}],"mark":{"type":"text","fontSize":17,"baseline":"alphabetic","dy":-3.5},
     "encoding":{"x":{"field":"g","type":"nominal"},"y":{"field":"y","type":"quantitative","axis":{"title":["Total aggressive","behaviors duration (s)"],"values":[0,50,100,150],"tickCount":12,"titlePadding":5,"labelOverlap":false}},"text":{"field":"t","type":"nominal"}}},
    {"data":{"name":"bars"},"transform":[{"filter":"datum.p==='c'"}],"mark":{"type":"text","angle":315,"align":"right","baseline":"middle","radius":16,"theta":2.93,"fontSize":10,"fontWeight":"bold"},
     "encoding":{"x":{"field":"g","type":"nominal"},"xOffset":{"field":"c","type":"nominal","scale":{"domain":["naive","bonded"]}},"y":{"datum":0,"type":"quantitative","axis":{"title":["Total aggressive","behaviors duration (s)"],"values":[0,50,100,150],"tickCount":12,"titlePadding":5,"labelOverlap":false}},"text":{"field":"c","type":"nominal"}}}
   ]},
  {"width":160,"height":159,"title":{"text":"d","dx":-48},"resolve":{"scale":{"xOffset":"independent"}},
   "layer":[
    {"data":{"name":"bars"},"transform":[{"filter":"datum.p==='d'"}],"mark":{"type":"bar","stroke":"black","strokeWidth":1.6},
     "encoding":{"x":{"field":"g","type":"nominal","scale":{"domain":["C21","sal","sham"],"paddingInner":0.12,"paddingOuter":0.16},"axis":{"labels":false,"ticks":false,"title":null}},
      "xOffset":{"field":"c","type":"nominal","scale":{"domain":["naive","bonded"]}},
      "y":{"field":"m","type":"quantitative","scale":{"domain":[0,80],"nice":false},"axis":{"title":"Huddling duration (s)","values":[0,20,40,60,80],"tickCount":12,"titlePadding":5,"labelOverlap":false}},
      "fill":{"field":"k","type":"nominal","legend":null}}},
    {"data":{"name":"bars"},"transform":[{"filter":"datum.p==='d'"}],"mark":{"type":"rule","color":"#222222","strokeWidth":1.5},
     "encoding":{"x":{"field":"g","type":"nominal"},"xOffset":{"field":"c","type":"nominal","scale":{"domain":["naive","bonded"]}},"y":{"field":"m","type":"quantitative","axis":{"title":"Huddling duration (s)","values":[0,20,40,60,80],"tickCount":12,"titlePadding":5,"labelOverlap":false}},"y2":{"field":"u"}}},
    {"data":{"name":"bars"},"transform":[{"filter":"datum.p==='d'"}],"mark":{"type":"tick","orient":"horizontal","color":"#222222","size":8,"thickness":1.5},
     "encoding":{"x":{"field":"g","type":"nominal"},"xOffset":{"field":"c","type":"nominal","scale":{"domain":["naive","bonded"]}},"y":{"field":"u","type":"quantitative","axis":{"title":"Huddling duration (s)","values":[0,20,40,60,80],"tickCount":12,"titlePadding":5,"labelOverlap":false}}}},
    {"data":{"name":"pts"},"transform":[{"filter":"datum.p==='d'"}],"mark":{"type":"circle","fill":"white","stroke":"black","strokeWidth":1.3,"size":22,"opacity":1},
     "encoding":{"x":{"field":"g","type":"nominal"},"xOffset":{"field":"s","type":"quantitative","scale":{"domain":[-0.5,23.5]}},"y":{"field":"v","type":"quantitative","axis":{"title":"Huddling duration (s)","values":[0,20,40,60,80],"tickCount":12,"titlePadding":5,"labelOverlap":false}}}},
    {"data":{"name":"brk"},"transform":[{"filter":"datum.p==='d'"}],"mark":{"type":"line","color":"black","strokeWidth":1.5},
     "encoding":{"x":{"field":"g","type":"nominal"},"xOffset":{"field":"c","type":"nominal","scale":{"domain":["naive","bonded"]}},"y":{"field":"y","type":"quantitative","axis":{"title":"Huddling duration (s)","values":[0,20,40,60,80],"tickCount":12,"titlePadding":5,"labelOverlap":false}},"detail":{"field":"b","type":"nominal"},"order":{"field":"o","type":"quantitative"}}},
    {"data":{"name":"stars"},"transform":[{"filter":"datum.p==='d' && !datum.c"}],"mark":{"type":"text","fontSize":17,"baseline":"alphabetic","dy":-3.5},
     "encoding":{"x":{"field":"g","type":"nominal"},"y":{"field":"y","type":"quantitative","axis":{"title":"Huddling duration (s)","values":[0,20,40,60,80],"tickCount":12,"titlePadding":5,"labelOverlap":false}},"text":{"field":"t","type":"nominal"}}},
    {"data":{"name":"stars"},"transform":[{"filter":"datum.p==='d' && datum.c"}],"mark":{"type":"text","fontSize":17,"baseline":"alphabetic","dy":-3.5},
     "encoding":{"x":{"field":"g","type":"nominal"},"xOffset":{"field":"c","type":"nominal","scale":{"domain":["naive","bonded"]}},"y":{"field":"y","type":"quantitative","axis":{"title":"Huddling duration (s)","values":[0,20,40,60,80],"tickCount":12,"titlePadding":5,"labelOverlap":false}},"text":{"field":"t","type":"nominal"}}},
    {"data":{"name":"bars"},"transform":[{"filter":"datum.p==='d'"}],"mark":{"type":"text","angle":315,"align":"right","baseline":"middle","radius":16,"theta":2.93,"fontSize":10,"fontWeight":"bold"},
     "encoding":{"x":{"field":"g","type":"nominal"},"xOffset":{"field":"c","type":"nominal","scale":{"domain":["naive","bonded"]}},"y":{"datum":0,"type":"quantitative","axis":{"title":"Huddling duration (s)","values":[0,20,40,60,80],"tickCount":12,"titlePadding":5,"labelOverlap":false}},"text":{"field":"c","type":"nominal"}}}
   ]},
  {"width":160,"height":159,"title":{"text":"e","dx":-55},"resolve":{"scale":{"xOffset":"independent"}},
   "layer":[
    {"data":{"name":"bars"},"transform":[{"filter":"datum.p==='e'"}],"mark":{"type":"bar","stroke":"black","strokeWidth":1.6},
     "encoding":{"x":{"field":"g","type":"nominal","scale":{"domain":["C21","sal","sham"],"paddingInner":0.12,"paddingOuter":0.16},"axis":{"labels":false,"ticks":false,"title":null}},
      "xOffset":{"field":"c","type":"nominal","scale":{"domain":["naive","bonded"]}},
      "y":{"field":"m","type":"quantitative","scale":{"domain":[0,200],"nice":false},"axis":{"title":"Anogenital sniffing duration (s)","values":[0,50,100,150,200],"tickCount":12,"titlePadding":5,"labelOverlap":false}},
      "fill":{"field":"k","type":"nominal","legend":null}}},
    {"data":{"name":"bars"},"transform":[{"filter":"datum.p==='e'"}],"mark":{"type":"rule","color":"#222222","strokeWidth":1.5},
     "encoding":{"x":{"field":"g","type":"nominal"},"xOffset":{"field":"c","type":"nominal","scale":{"domain":["naive","bonded"]}},"y":{"field":"m","type":"quantitative","axis":{"title":"Anogenital sniffing duration (s)","values":[0,50,100,150,200],"tickCount":12,"titlePadding":5,"labelOverlap":false}},"y2":{"field":"u"}}},
    {"data":{"name":"bars"},"transform":[{"filter":"datum.p==='e'"}],"mark":{"type":"tick","orient":"horizontal","color":"#222222","size":8,"thickness":1.5},
     "encoding":{"x":{"field":"g","type":"nominal"},"xOffset":{"field":"c","type":"nominal","scale":{"domain":["naive","bonded"]}},"y":{"field":"u","type":"quantitative","axis":{"title":"Anogenital sniffing duration (s)","values":[0,50,100,150,200],"tickCount":12,"titlePadding":5,"labelOverlap":false}}}},
    {"data":{"name":"pts"},"transform":[{"filter":"datum.p==='e'"}],"mark":{"type":"circle","fill":"white","stroke":"black","strokeWidth":1.3,"size":22,"opacity":1},
     "encoding":{"x":{"field":"g","type":"nominal"},"xOffset":{"field":"s","type":"quantitative","scale":{"domain":[-0.5,23.5]}},"y":{"field":"v","type":"quantitative","axis":{"title":"Anogenital sniffing duration (s)","values":[0,50,100,150,200],"tickCount":12,"titlePadding":5,"labelOverlap":false}}}},
    {"data":{"name":"brk"},"transform":[{"filter":"datum.p==='e'"}],"mark":{"type":"line","color":"black","strokeWidth":1.5},
     "encoding":{"x":{"field":"g","type":"nominal"},"xOffset":{"field":"c","type":"nominal","scale":{"domain":["naive","bonded"]}},"y":{"field":"y","type":"quantitative","axis":{"title":"Anogenital sniffing duration (s)","values":[0,50,100,150,200],"tickCount":12,"titlePadding":5,"labelOverlap":false}},"detail":{"field":"b","type":"nominal"},"order":{"field":"o","type":"quantitative"}}},
    {"data":{"name":"stars"},"transform":[{"filter":"datum.p==='e' && !datum.c"}],"mark":{"type":"text","fontSize":17,"baseline":"alphabetic","dy":-3.5},
     "encoding":{"x":{"field":"g","type":"nominal"},"y":{"field":"y","type":"quantitative","axis":{"title":"Anogenital sniffing duration (s)","values":[0,50,100,150,200],"tickCount":12,"titlePadding":5,"labelOverlap":false}},"text":{"field":"t","type":"nominal"}}},
    {"data":{"name":"bars"},"transform":[{"filter":"datum.p==='e'"}],"mark":{"type":"text","angle":315,"align":"right","baseline":"middle","radius":16,"theta":2.93,"fontSize":10,"fontWeight":"bold"},
     "encoding":{"x":{"field":"g","type":"nominal"},"xOffset":{"field":"c","type":"nominal","scale":{"domain":["naive","bonded"]}},"y":{"datum":0,"type":"quantitative","axis":{"title":"Anogenital sniffing duration (s)","values":[0,50,100,150,200],"tickCount":12,"titlePadding":5,"labelOverlap":false}},"text":{"field":"c","type":"nominal"}}}
   ]},
  {"width":160,"height":159,"title":{"text":"f","dx":-54},"resolve":{"scale":{"xOffset":"independent"}},
   "layer":[
    {"data":{"name":"bars"},"transform":[{"filter":"datum.p==='f'"}],"mark":{"type":"bar","stroke":"black","strokeWidth":1.6},
     "encoding":{"x":{"field":"g","type":"nominal","scale":{"domain":["C21","sal","sham"],"paddingInner":0.12,"paddingOuter":0.16},"axis":{"labels":false,"ticks":false,"title":null}},
      "xOffset":{"field":"c","type":"nominal","scale":{"domain":["naive","bonded"]}},
      "y":{"field":"m","type":"quantitative","scale":{"domain":[0,250],"nice":false},"axis":{"title":["Total social","behaviors duration (s)"],"values":[0,50,100,150,200,250],"tickCount":12,"titlePadding":5,"labelOverlap":false}},
      "fill":{"field":"k","type":"nominal","legend":null}}},
    {"data":{"name":"bars"},"transform":[{"filter":"datum.p==='f'"}],"mark":{"type":"rule","color":"#222222","strokeWidth":1.5},
     "encoding":{"x":{"field":"g","type":"nominal"},"xOffset":{"field":"c","type":"nominal","scale":{"domain":["naive","bonded"]}},"y":{"field":"m","type":"quantitative","axis":{"title":["Total social","behaviors duration (s)"],"values":[0,50,100,150,200,250],"tickCount":12,"titlePadding":5,"labelOverlap":false}},"y2":{"field":"u"}}},
    {"data":{"name":"bars"},"transform":[{"filter":"datum.p==='f'"}],"mark":{"type":"tick","orient":"horizontal","color":"#222222","size":8,"thickness":1.5},
     "encoding":{"x":{"field":"g","type":"nominal"},"xOffset":{"field":"c","type":"nominal","scale":{"domain":["naive","bonded"]}},"y":{"field":"u","type":"quantitative","axis":{"title":["Total social","behaviors duration (s)"],"values":[0,50,100,150,200,250],"tickCount":12,"titlePadding":5,"labelOverlap":false}}}},
    {"data":{"name":"pts"},"transform":[{"filter":"datum.p==='f'"}],"mark":{"type":"circle","fill":"white","stroke":"black","strokeWidth":1.3,"size":22,"opacity":1},
     "encoding":{"x":{"field":"g","type":"nominal"},"xOffset":{"field":"s","type":"quantitative","scale":{"domain":[-0.5,23.5]}},"y":{"field":"v","type":"quantitative","axis":{"title":["Total social","behaviors duration (s)"],"values":[0,50,100,150,200,250],"tickCount":12,"titlePadding":5,"labelOverlap":false}}}},
    {"data":{"name":"brk"},"transform":[{"filter":"datum.p==='f'"}],"mark":{"type":"line","color":"black","strokeWidth":1.5},
     "encoding":{"x":{"field":"g","type":"nominal"},"xOffset":{"field":"c","type":"nominal","scale":{"domain":["naive","bonded"]}},"y":{"field":"y","type":"quantitative","axis":{"title":["Total social","behaviors duration (s)"],"values":[0,50,100,150,200,250],"tickCount":12,"titlePadding":5,"labelOverlap":false}},"detail":{"field":"b","type":"nominal"},"order":{"field":"o","type":"quantitative"}}},
    {"data":{"name":"stars"},"transform":[{"filter":"datum.p==='f' && !datum.c"}],"mark":{"type":"text","fontSize":17,"baseline":"alphabetic","dy":-3.5},
     "encoding":{"x":{"field":"g","type":"nominal"},"y":{"field":"y","type":"quantitative","axis":{"title":["Total social","behaviors duration (s)"],"values":[0,50,100,150,200,250],"tickCount":12,"titlePadding":5,"labelOverlap":false}},"text":{"field":"t","type":"nominal"}}},
    {"data":{"name":"bars"},"transform":[{"filter":"datum.p==='f'"}],"mark":{"type":"text","angle":315,"align":"right","baseline":"middle","radius":16,"theta":2.93,"fontSize":10,"fontWeight":"bold"},
     "encoding":{"x":{"field":"g","type":"nominal"},"xOffset":{"field":"c","type":"nominal","scale":{"domain":["naive","bonded"]}},"y":{"datum":0,"type":"quantitative","axis":{"title":["Total social","behaviors duration (s)"],"values":[0,50,100,150,200,250],"tickCount":12,"titlePadding":5,"labelOverlap":false}},"text":{"field":"c","type":"nominal"}}}
   ]}
 ]}
],
"config":{
 "font":"Liberation Sans",
 "view":{"stroke":null},
 "axis":{"domainColor":"black","domainWidth":1.8,"tickColor":"black","tickWidth":1.8,"tickSize":6,"labelColor":"black","labelFontSize":12,"labelFontWeight":"bold","labelPadding":2,"labelOverlap":false,"titleColor":"black","titleFontSize":11.5,"titleFontWeight":"bold","grid":false},
 "title":{"fontSize":17,"fontWeight":"bold","color":"black","anchor":"start","frame":"group","offset":-3,"baseline":"alphabetic"},
 "text":{"color":"black"}
}
}
